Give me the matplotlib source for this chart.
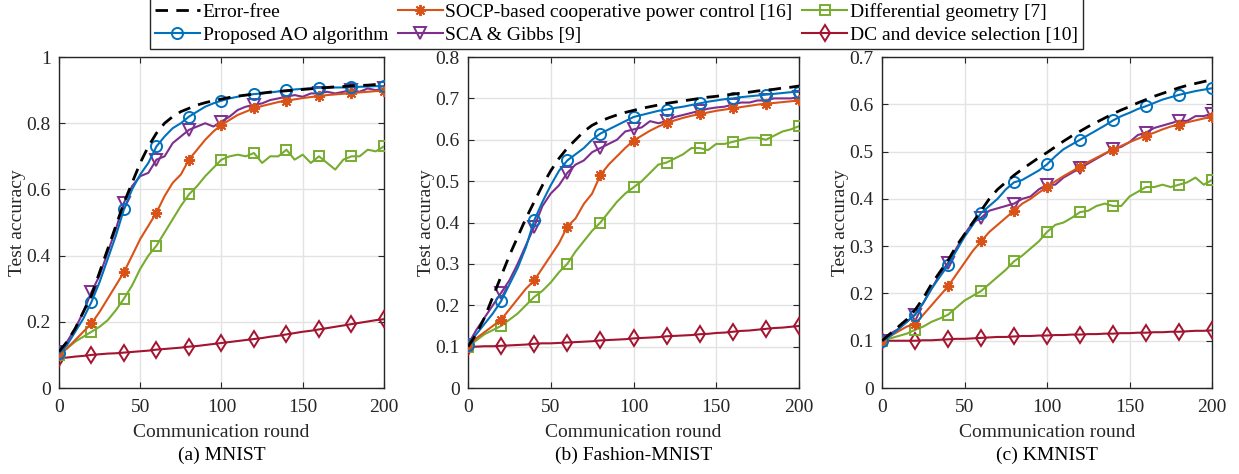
import numpy as np
import matplotlib
matplotlib.use("Agg")
import matplotlib.pyplot as plt

plt.rcParams['font.family'] = ['Liberation Serif', 'DejaVu Serif']
plt.rcParams['mathtext.fontset'] = 'stix'

rounds = np.arange(0, 201, 5)

labels = ['Error-free', 'Proposed AO algorithm', 'SOCP-based cooperative power control [16]',
          'SCA & Gibbs [9]', 'Differential geometry [7]', 'DC and device selection [10]']

# (a) MNIST
mnist_errfree = [0.11, 0.14, 0.18, 0.23, 0.28, 0.35, 0.42, 0.49, 0.56, 0.62, 0.68, 0.73, 0.77, 0.80, 0.82,
                 0.835, 0.845, 0.855, 0.862, 0.868, 0.873, 0.878, 0.882, 0.885, 0.888, 0.891, 0.894, 0.896,
                 0.898, 0.900, 0.902, 0.904, 0.906, 0.908, 0.910, 0.911, 0.913, 0.914, 0.915, 0.917, 0.918]
mnist_ao = [0.105, 0.13, 0.17, 0.21, 0.26, 0.32, 0.39, 0.46, 0.54, 0.60, 0.645, 0.68, 0.73, 0.76, 0.785,
            0.80, 0.82, 0.835, 0.85, 0.86, 0.868, 0.875, 0.88, 0.885, 0.888, 0.89, 0.893, 0.896, 0.899,
            0.902, 0.904, 0.905, 0.907, 0.907, 0.908, 0.908, 0.909, 0.910, 0.911, 0.912, 0.912]
mnist_socp = [0.10, 0.12, 0.145, 0.17, 0.195, 0.23, 0.27, 0.31, 0.35, 0.40, 0.45, 0.49, 0.53, 0.58, 0.62,
              0.645, 0.69, 0.72, 0.75, 0.775, 0.795, 0.81, 0.825, 0.835, 0.845, 0.852, 0.858, 0.864, 0.868,
              0.872, 0.876, 0.879, 0.882, 0.885, 0.887, 0.889, 0.891, 0.893, 0.895, 0.897, 0.898]
mnist_sca = [0.11, 0.14, 0.18, 0.23, 0.29, 0.34, 0.41, 0.48, 0.56, 0.61, 0.64, 0.65, 0.69, 0.70, 0.74,
             0.76, 0.78, 0.79, 0.80, 0.79, 0.805, 0.82, 0.84, 0.85, 0.855, 0.86, 0.87, 0.875, 0.88, 0.885,
             0.88, 0.89, 0.89, 0.895, 0.89, 0.895, 0.90, 0.895, 0.905, 0.90, 0.905]
mnist_dg = [0.10, 0.12, 0.14, 0.155, 0.17, 0.185, 0.205, 0.235, 0.27, 0.31, 0.36, 0.40, 0.43, 0.47, 0.51,
            0.55, 0.585, 0.61, 0.64, 0.665, 0.69, 0.70, 0.705, 0.70, 0.71, 0.68, 0.70, 0.70, 0.72, 0.69,
            0.705, 0.68, 0.70, 0.68, 0.66, 0.69, 0.70, 0.70, 0.72, 0.715, 0.73]
mnist_dc = [0.09, 0.092, 0.095, 0.097, 0.10, 0.102, 0.104, 0.105, 0.107, 0.109, 0.111, 0.113, 0.116, 0.118,
            0.120, 0.122, 0.125, 0.127, 0.130, 0.133, 0.136, 0.139, 0.142, 0.145, 0.148, 0.151, 0.155,
            0.158, 0.162, 0.166, 0.170, 0.173, 0.177, 0.181, 0.185, 0.189, 0.193, 0.197, 0.201, 0.205, 0.208]

# (b) Fashion-MNIST
fmnist_errfree = [0.10, 0.13, 0.17, 0.22, 0.27, 0.32, 0.365, 0.41, 0.45, 0.49, 0.525, 0.555, 0.58, 0.60,
                  0.62, 0.635, 0.645, 0.653, 0.66, 0.666, 0.671, 0.676, 0.68, 0.684, 0.688, 0.691, 0.694,
                  0.697, 0.70, 0.703, 0.705, 0.708, 0.71, 0.713, 0.715, 0.718, 0.72, 0.722, 0.725, 0.727, 0.73]
fmnist_ao = [0.105, 0.13, 0.155, 0.18, 0.21, 0.25, 0.29, 0.34, 0.405, 0.45, 0.49, 0.525, 0.55, 0.565, 0.58,
             0.60, 0.615, 0.625, 0.635, 0.645, 0.655, 0.66, 0.665, 0.67, 0.673, 0.677, 0.68, 0.684, 0.688,
             0.692, 0.695, 0.698, 0.70, 0.703, 0.705, 0.707, 0.709, 0.711, 0.713, 0.715, 0.716]
fmnist_socp = [0.10, 0.12, 0.135, 0.15, 0.165, 0.19, 0.215, 0.24, 0.26, 0.29, 0.32, 0.35, 0.39, 0.41, 0.445,
               0.47, 0.515, 0.54, 0.56, 0.58, 0.598, 0.61, 0.622, 0.632, 0.64, 0.647, 0.653, 0.658, 0.662,
               0.666, 0.67, 0.673, 0.676, 0.679, 0.682, 0.685, 0.687, 0.689, 0.691, 0.693, 0.695]
fmnist_sca = [0.105, 0.14, 0.17, 0.20, 0.23, 0.26, 0.30, 0.345, 0.39, 0.44, 0.47, 0.49, 0.52, 0.54, 0.55,
              0.57, 0.58, 0.59, 0.60, 0.62, 0.625, 0.63, 0.645, 0.64, 0.645, 0.655, 0.66, 0.665, 0.67,
              0.675, 0.678, 0.68, 0.685, 0.69, 0.69, 0.695, 0.695, 0.70, 0.70, 0.70, 0.703]
fmnist_dg = [0.10, 0.115, 0.13, 0.14, 0.15, 0.165, 0.18, 0.20, 0.22, 0.235, 0.255, 0.28, 0.30, 0.33, 0.355,
             0.38, 0.40, 0.425, 0.45, 0.47, 0.485, 0.50, 0.52, 0.54, 0.545, 0.555, 0.565, 0.58, 0.58, 0.575,
             0.59, 0.59, 0.595, 0.60, 0.605, 0.605, 0.60, 0.61, 0.62, 0.625, 0.633]
fmnist_dc = [0.10, 0.100, 0.101, 0.101, 0.102, 0.103, 0.104, 0.105, 0.107, 0.108, 0.108, 0.109, 0.110,
             0.111, 0.112, 0.113, 0.115, 0.116, 0.117, 0.118, 0.120, 0.121, 0.122, 0.123, 0.125, 0.126,
             0.127, 0.128, 0.130, 0.131, 0.133, 0.134, 0.136, 0.138, 0.139, 0.141, 0.143, 0.145, 0.146,
             0.148, 0.150]

# (c) KMNIST
kmnist_errfree = [0.10, 0.115, 0.13, 0.145, 0.165, 0.19, 0.22, 0.245, 0.27, 0.30, 0.325, 0.35, 0.375, 0.40,
                  0.42, 0.435, 0.45, 0.463, 0.475, 0.487, 0.498, 0.51, 0.522, 0.533, 0.543, 0.553, 0.562,
                  0.571, 0.58, 0.588, 0.595, 0.603, 0.61, 0.617, 0.623, 0.629, 0.635, 0.64, 0.644, 0.648, 0.652]
kmnist_ao = [0.10, 0.11, 0.125, 0.14, 0.155, 0.18, 0.21, 0.235, 0.26, 0.29, 0.32, 0.345, 0.37, 0.385, 0.40,
             0.42, 0.435, 0.44, 0.45, 0.46, 0.473, 0.49, 0.505, 0.515, 0.525, 0.535, 0.545, 0.555, 0.566,
             0.575, 0.582, 0.59, 0.596, 0.603, 0.61, 0.615, 0.62, 0.624, 0.628, 0.631, 0.634]
kmnist_socp = [0.10, 0.11, 0.12, 0.13, 0.135, 0.155, 0.175, 0.195, 0.215, 0.24, 0.265, 0.29, 0.31, 0.33,
               0.345, 0.36, 0.375, 0.39, 0.40, 0.413, 0.425, 0.437, 0.448, 0.458, 0.468, 0.478, 0.487,
               0.496, 0.504, 0.512, 0.52, 0.527, 0.534, 0.54, 0.547, 0.553, 0.557, 0.562, 0.566, 0.57, 0.574]
kmnist_sca = [0.10, 0.115, 0.125, 0.14, 0.155, 0.18, 0.21, 0.24, 0.265, 0.295, 0.325, 0.35, 0.36, 0.375,
              0.38, 0.385, 0.39, 0.40, 0.405, 0.42, 0.43, 0.43, 0.445, 0.455, 0.465, 0.475, 0.485, 0.495,
              0.505, 0.51, 0.52, 0.535, 0.54, 0.55, 0.555, 0.56, 0.565, 0.565, 0.575, 0.575, 0.58]
kmnist_dg = [0.10, 0.105, 0.11, 0.115, 0.123, 0.13, 0.14, 0.147, 0.155, 0.17, 0.185, 0.195, 0.205, 0.22,
             0.235, 0.25, 0.268, 0.28, 0.295, 0.31, 0.33, 0.345, 0.35, 0.36, 0.372, 0.375, 0.385, 0.39,
             0.385, 0.385, 0.405, 0.415, 0.425, 0.425, 0.43, 0.425, 0.43, 0.435, 0.445, 0.43, 0.44]
kmnist_dc = [0.10, 0.100, 0.100, 0.100, 0.100, 0.101, 0.101, 0.102, 0.103, 0.104, 0.104, 0.105, 0.106,
             0.107, 0.108, 0.108, 0.109, 0.110, 0.110, 0.111, 0.111, 0.112, 0.112, 0.113, 0.113, 0.114,
             0.114, 0.115, 0.115, 0.116, 0.116, 0.117, 0.117, 0.118, 0.118, 0.119, 0.119, 0.120, 0.121,
             0.121, 0.122]

panels = [
    ('(a) MNIST', 1.0, 0.2, [mnist_errfree, mnist_ao, mnist_socp, mnist_sca, mnist_dg, mnist_dc]),
    ('(b) Fashion-MNIST', 0.8, 0.1, [fmnist_errfree, fmnist_ao, fmnist_socp, fmnist_sca, fmnist_dg, fmnist_dc]),
    ('(c) KMNIST', 0.7, 0.1, [kmnist_errfree, kmnist_ao, kmnist_socp, kmnist_sca, kmnist_dg, kmnist_dc]),
]

colors = ['black', '#0072BD', '#D95319', '#7E2F8E', '#77AC30', '#A2142F']
markers = [None, 'o', (8, 2, 0), 'v', 's', 'd']
msizes = [0, 8, 8, 8, 7.5, 8]
styles = ['--', '-', '-', '-', '-', '-']

fig = plt.figure(figsize=(12.39, 4.74), dpi=100)
lefts = [0.0476, 0.3777, 0.7119]
widths = [0.2623, 0.2672, 0.2663]
fs = 14
axc = '#262626'

for i, (cap, ymax, ystep, series) in enumerate(panels):
    ax = fig.add_axes([lefts[i], 0.1814, widths[i], 0.6983])
    for k, vals in enumerate(series):
        ax.plot(rounds, vals, linestyle=styles[k], color=colors[k], lw=2 if k == 0 else 1.5,
                marker=markers[k], markevery=4, markersize=msizes[k],
                markerfacecolor='none', markeredgewidth=1.4, label=labels[k],
                dashes=(4.5, 3) if k == 0 else (None, None), zorder=3 + (5 - k) * 0.1)
    ax.set_xlim(0, 200)
    ax.set_ylim(0, ymax)
    ax.set_xticks([0, 50, 100, 150, 200])
    yt = np.round(np.arange(0, ymax + 1e-9, ystep), 2)
    ax.set_yticks(yt)
    ax.set_yticklabels(['0' if v == 0 else ('1' if v == 1 else f'{v:g}') for v in yt])
    ax.grid(True, color='#e3e3e3', lw=1)
    ax.set_axisbelow(True)
    ax.tick_params(direction='in', top=True, right=True, labelsize=fs, colors=axc, length=4, pad=6)
    ax.tick_params(axis='x', pad=8)
    for s in ax.spines.values():
        s.set_color(axc)
        s.set_linewidth(1)
    ax.set_xlabel('Communication round', fontsize=fs, color=axc, labelpad=6)
    ax.set_ylabel('Test accuracy', fontsize=fs, color=axc, labelpad=0)
    fig.text(lefts[i] + widths[i] / 2, 0.040, cap, ha='center', va='center', fontsize=fs, color='black')
    if i == 0:
        handles, labs = ax.get_legend_handles_labels()

leg = fig.legend(handles, labs, loc='upper center', bbox_to_anchor=(0.4976, 1.004), ncol=3,
                 fontsize=fs, handlelength=2.3, handletextpad=0.15, columnspacing=0.5,
                 labelspacing=0.3, borderpad=0.25, borderaxespad=0, fancybox=False,
                 edgecolor=axc, framealpha=1)
leg.get_frame().set_linewidth(1)

fig.savefig('out.png', dpi=100)
